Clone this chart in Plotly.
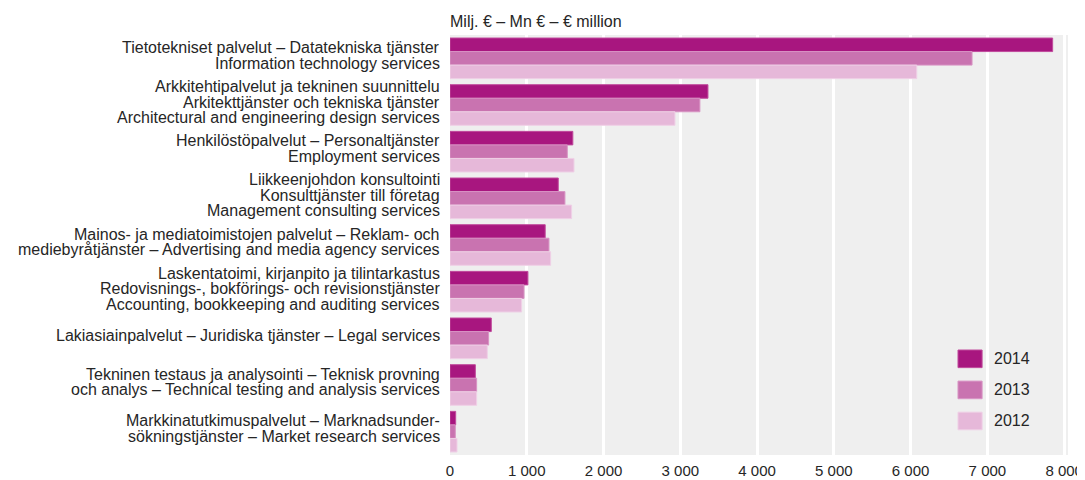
import plotly.graph_objects as go

# Kategoriat (ylhäältä alas), rivit erotettu <br>:llä
categories = [
    "Tietotekniset palvelut – Datatekniska tjänster<br>Information technology services",
    "Arkkitehtipalvelut ja tekninen suunnittelu<br>Arkitekttjänster och tekniska tjänster<br>Architectural and engineering design services",
    "Henkilöstöpalvelut – Personaltjänster<br>Employment services",
    "Liikkeenjohdon konsultointi<br>Konsulttjänster till företag<br>Management consulting services",
    "Mainos- ja mediatoimistojen palvelut – Reklam- och <br>mediebyråtjänster – Advertising and media agency services",
    "Laskentatoimi, kirjanpito ja tilintarkastus<br>Redovisnings-, bokförings- och revisionstjänster<br>Accounting, bookkeeping and auditing services",
    "Lakiasiainpalvelut – Juridiska tjänster – Legal services",
    "Tekninen testaus ja analysointi – Teknisk provning <br>och analys – Technical testing and analysis services",
    "Markkinatutkimuspalvelut – Marknadsunder-<br>sökningstjänster – Market research services",
]

# Milj. €
v2014 = [7850, 3360, 1600, 1410, 1240, 1015, 538, 330, 74]
v2013 = [6800, 3255, 1528, 1497, 1289, 964, 503, 347, 69]
v2012 = [6080, 2930, 1615, 1584, 1311, 933, 486, 347, 91]

years = ["2014", "2013", "2012"]
colors = ["#a8167f", "#c973b0", "#e6b8d9"]
borders = ["#c04a9c", "#d894c4", "#efd0e6"]

fig = go.Figure()
for name, vals, c, b in zip(years, [v2014, v2013, v2012], colors, borders):
    fig.add_trace(go.Bar(y=categories, x=vals, name=name, orientation="h",
                         marker=dict(color=c, line=dict(color=b, width=1))))

# sivun body-marginaali (8 px) huomioitu
fig.update_layout(
    width=1077, height=472,
    barmode="group", bargap=0.13, bargroupgap=0,
    paper_bgcolor="white", plot_bgcolor="#efefef",
    font=dict(family="Liberation Sans, Arial, sans-serif", size=16, color="#262626"),
    margin=dict(l=442, r=17, t=27, b=25),
    showlegend=False,
)
fig.update_xaxes(range=[0, 8050], tickvals=list(range(0, 9000, 1000)),
                 ticktext=[f"{v:,}".replace(",", " ") for v in range(0, 9000, 1000)],
                 showgrid=True, gridcolor="white", gridwidth=3, zeroline=False,
                 tickfont=dict(size=15), ticks="", ticklabelstandoff=5,
                 automargin=False)
fig.update_yaxes(autorange="reversed", ticks="", showgrid=False,
                 showticklabels=False, automargin=False)

# kategorioiden nimet rivi kerrallaan (tiiviimpi riviväli)
line_h = 15.5
for cat in categories:
    lines = cat.split("<br>")
    n = len(lines)
    for i, ln in enumerate(lines):
        fig.add_annotation(text=ln.strip(), xref="paper", yref="y", x=0, y=cat,
                           xanchor="right", yanchor="middle", xshift=-8,
                           yshift=((n - 1) / 2 - i) * line_h + 3, showarrow=False,
                           font=dict(size=16))

fig.add_annotation(text="Milj. € – Mn € – € million", xref="paper", yref="paper",
                   x=0, y=1, xanchor="left", yanchor="bottom", showarrow=False,
                   font=dict(size=16), xshift=-2, yshift=3)

# selite
for k, (name, c, b) in enumerate(zip(years, colors, borders)):
    yc = 0.229 - k * 0.074
    fig.add_shape(type="rect", xref="paper", yref="paper",
                  x0=0.822, x1=0.861, y0=yc - 0.021, y1=yc + 0.021,
                  fillcolor=c, line=dict(color=b, width=1))
    fig.add_annotation(text=name, xref="paper", yref="paper", x=0.877, y=yc,
                       xanchor="left", yanchor="middle", showarrow=False,
                       font=dict(size=16))

fig.write_html("out.html")
